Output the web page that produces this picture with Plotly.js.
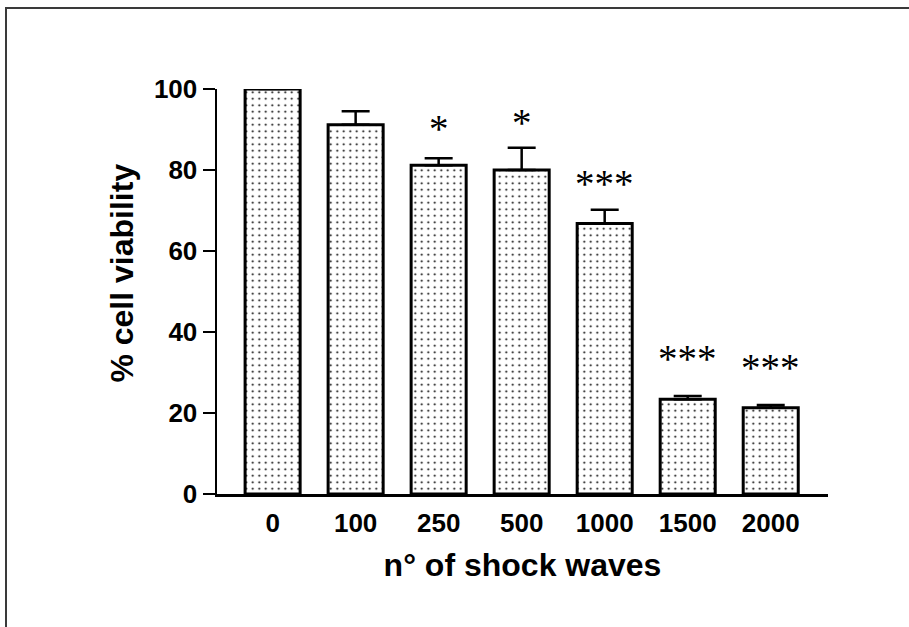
<!DOCTYPE html>
<html>
<head>
<meta charset="utf-8">
<script src="https://cdn.plot.ly/plotly-3.0.1.min.js"></script>
<style>
  html, body { margin: 0; padding: 0; background: #fff; }
  #wrap { position: relative; width: 909px; height: 627px; overflow: hidden; }
  #chart { position: absolute; left: 0; top: 0; width: 909px; height: 627px; }
  #frame { position: absolute; left: 5px; top: 7px; width: 910px; height: 630px;
           border-top: 2px solid #3a3a3a; border-left: 2px solid #3a3a3a; pointer-events: none; }
</style>
</head>
<body>
<div id="wrap">
  <div id="chart"></div>
  <div id="frame"></div>
</div>
<script>
// Data
const categories = ["0", "100", "250", "500", "1000", "1500", "2000"];
const viability  = [100, 91.2, 81.2, 80.0, 66.8, 23.4, 21.3];
const sem        = [0, 3.3, 1.7, 5.5, 3.4, 0.8, 0.7];
const sigLabels  = ["", "", "*", "*", "***", "***", "***"];
const sigHeights = [0, 0, 91.1, 92.5, 77.5, 34.3, 31.9];
const yTicks     = [0, 20, 40, 60, 80, 100];

const sansBold = {family: "Liberation Sans, Arial, sans-serif", color: "#000", weight: "bold"};

const bars = {
  type: "bar",
  x: categories,
  y: viability,
  marker: {
    color: "#ffffff",
    line: {color: "#000", width: 3},
    pattern: {shape: ".", fgcolor: "#000", bgcolor: "#ffffff", size: 6.5, solidity: 0.08}
  },
  error_y: {
    type: "data",
    symmetric: false,
    array: sem,
    arrayminus: sem.map(() => 0),
    color: "#000",
    thickness: 2.5,
    width: 14,
    visible: true
  },
  hoverinfo: "skip"
};

const annotations = [];
categories.forEach((c, i) => {
  if (sigLabels[i]) {
    annotations.push({
      x: i, y: sigHeights[i], xref: "x", yref: "y",
      text: sigLabels[i], showarrow: false,
      xanchor: "center", yanchor: "middle", yshift: -3,
      font: {family: "Liberation Serif, Times New Roman, serif", size: 39, color: "#000"}
    });
  }
});
// y-axis title placed as rotated text
annotations.push({
  xref: "paper", yref: "paper", x: -0.155, y: 0.545,
  xanchor: "center", yanchor: "middle", textangle: -90,
  text: "% cell viability", showarrow: false,
  font: Object.assign({size: 32}, sansBold)
});

const layout = {
  width: 909, height: 627,
  margin: {l: 217, r: 81, t: 89, b: 133, pad: 0},
  paper_bgcolor: "#fff", plot_bgcolor: "#fff",
  showlegend: false,
  bargap: 0.337,
  xaxis: {
    type: "category",
    range: [-0.67, 6.69],
    showline: true, linecolor: "#000", linewidth: 2.5,
    ticks: "", showgrid: false, zeroline: false,
    tickfont: Object.assign({size: 26}, sansBold),
    ticklabelstandoff: 4,
    title: {text: "n° of shock waves", font: Object.assign({size: 32}, sansBold), standoff: 17}
  },
  yaxis: {
    range: [0, 100],
    tickvals: yTicks,
    showline: true, linecolor: "#000", linewidth: 2.5,
    ticks: "outside", ticklen: 12, tickwidth: 2.5, tickcolor: "#000",
    showgrid: false, zeroline: false,
    tickfont: Object.assign({size: 26}, sansBold)
  },
  annotations: annotations
};

Plotly.newPlot("chart", [bars], layout, {displayModeBar: false, staticPlot: true});
</script>
</body>
</html>
